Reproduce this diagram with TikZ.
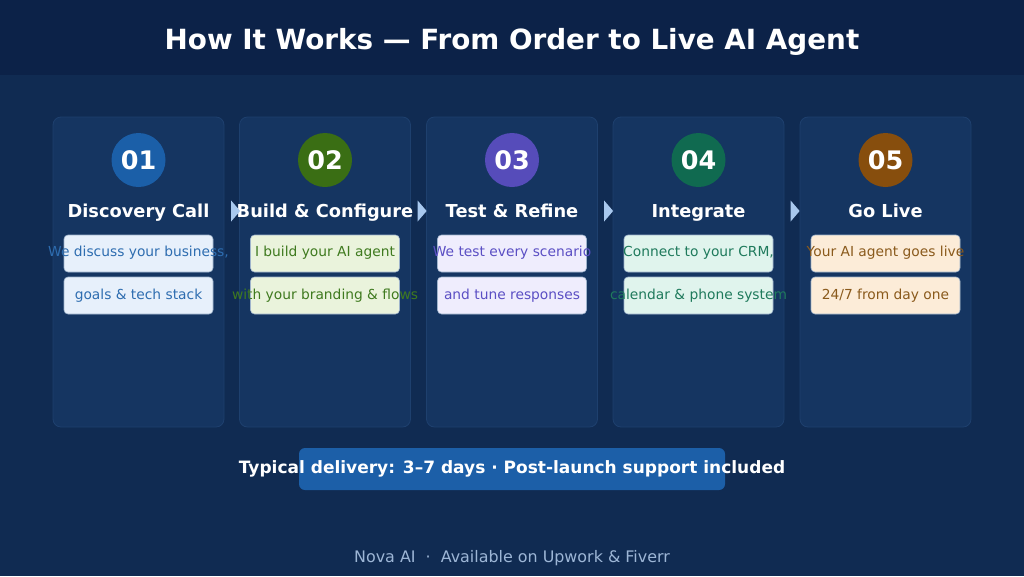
\documentclass[tikz,border=0pt]{standalone}
\usepackage{fontspec}
\setmainfont{DejaVu Sans}
\usetikzlibrary{shapes.geometric, positioning}
\definecolor{bgpage}{HTML}{102B52}
\definecolor{bghead}{HTML}{0C2248}
\definecolor{cardfill}{HTML}{153561}
\definecolor{cardline}{HTML}{1E406E}
\definecolor{boxline}{HTML}{9FB4CC}
\definecolor{tipfill}{HTML}{A8C8EE}
\definecolor{footgray}{HTML}{9DB6D6}
\definecolor{bannerblue}{HTML}{1C5FA8}
\definecolor{numA}{HTML}{1B5FA8}
\definecolor{numB}{HTML}{3A6E14}
\definecolor{numC}{HTML}{564CBA}
\definecolor{numD}{HTML}{106A50}
\definecolor{numE}{HTML}{874E0D}
\definecolor{boxA}{HTML}{E7F0FB}
\definecolor{boxB}{HTML}{EAF3DC}
\definecolor{boxC}{HTML}{EFEDFD}
\definecolor{boxD}{HTML}{E0F4ED}
\definecolor{boxE}{HTML}{FCECD8}
\definecolor{txtA}{HTML}{2E6DB0}
\definecolor{txtB}{HTML}{3F7A1F}
\definecolor{txtC}{HTML}{5B4FC4}
\definecolor{txtD}{HTML}{1F7A5C}
\definecolor{txtE}{HTML}{8A5A1C}

\begin{document}
\begin{tikzpicture}[
  x=1pt, y=-1pt,
  card/.style={rectangle, rounded corners=8pt, fill=cardfill, draw=cardline, line width=0.8pt, minimum width=171pt, minimum height=310pt, inner sep=0pt},
  badge/.style={circle, minimum size=54pt, inner sep=0pt},
  badgenum/.style={anchor=base, inner sep=0pt, text=white, font=\bfseries\fontsize{25.5}{26}\selectfont},
  stepname/.style={anchor=base, text=white, font=\bfseries\fontsize{17.8}{18}\selectfont, inner sep=0pt},
  descbox/.style={rectangle, rounded corners=4pt, draw=boxline, line width=0.6pt, minimum width=149pt, minimum height=37pt, inner sep=0pt},
  desc/.style={anchor=base, font=\fontsize{13.8}{14}\selectfont, inner sep=0pt},
  tip/.style={isosceles triangle, isosceles triangle stretches, fill=tipfill, minimum width=21pt, minimum height=9pt, inner sep=0pt}
]

\fill[bgpage] (0,0) rectangle (1024,576);
\fill[bghead] (0,0) rectangle (1024,75);
\node[anchor=base, inner sep=0pt, text=white, font=\bfseries\fontsize{27.8}{28}\selectfont] (title) at (512,49) {How It Works — From Order to Live AI Agent};

\node[card] (c1) at (138.5,272) {};
\node[card] (c2) at (325,272) {};
\node[card] (c3) at (512,272) {};
\node[card] (c4) at (698.5,272) {};
\node[card] (c5) at (885.5,272) {};

\node[badge, fill=numA] (n1) at (138.5,160) {};
\node[badgenum] (k1) at (138.5,169.5) {01};
\node[stepname] (s1) at (138.5,217.3) {Discovery Call};
\node[descbox, fill=boxA] (b1a) at (138.5,253.5) {};
\node[descbox, fill=boxA] (b1b) at (138.5,295.5) {};
\node[desc, text=txtA] (d1a) at (138.5,256) {We discuss your business,};
\node[desc, text=txtA] (d1b) at (138.5,299) {goals \& tech stack};

\node[badge, fill=numB] (n2) at (325,160) {};
\node[badgenum] (k2) at (325,169.5) {02};
\node[stepname] (s2) at (325,217.3) {Build \& Configure};
\node[descbox, fill=boxB] (b2a) at (325,253.5) {};
\node[descbox, fill=boxB] (b2b) at (325,295.5) {};
\node[desc, text=txtB] (d2a) at (325,256) {I build your AI agent};
\node[desc, text=txtB] (d2b) at (325,299) {with your branding \& flows};

\node[badge, fill=numC] (n3) at (512,160) {};
\node[badgenum] (k3) at (512,169.5) {03};
\node[stepname] (s3) at (512,217.3) {Test \& Refine};
\node[descbox, fill=boxC] (b3a) at (512,253.5) {};
\node[descbox, fill=boxC] (b3b) at (512,295.5) {};
\node[desc, text=txtC] (d3a) at (512,256) {We test every scenario};
\node[desc, text=txtC] (d3b) at (512,299) {and tune responses};

\node[badge, fill=numD] (n4) at (698.5,160) {};
\node[badgenum] (k4) at (698.5,169.5) {04};
\node[stepname] (s4) at (698.5,217.3) {Integrate};
\node[descbox, fill=boxD] (b4a) at (698.5,253.5) {};
\node[descbox, fill=boxD] (b4b) at (698.5,295.5) {};
\node[desc, text=txtD] (d4a) at (698.5,256) {Connect to your CRM,};
\node[desc, text=txtD] (d4b) at (698.5,299) {calendar \& phone system};

\node[badge, fill=numE] (n5) at (885.5,160) {};
\node[badgenum] (k5) at (885.5,169.5) {05};
\node[stepname] (s5) at (885.5,217.3) {Go Live};
\node[descbox, fill=boxE] (b5a) at (885.5,253.5) {};
\node[descbox, fill=boxE] (b5b) at (885.5,295.5) {};
\node[desc, text=txtE] (d5a) at (885.5,256) {Your AI agent goes live};
\node[desc, text=txtE] (d5b) at (885.5,299) {24/7 from day one};

\node[tip] (t12) at (235,211) {};
\node[tip] (t23) at (421.5,211) {};
\node[tip] (t34) at (608,211) {};
\node[tip] (t45) at (794.5,211) {};

\node[rectangle, rounded corners=6pt, fill=bannerblue, minimum width=426pt, minimum height=42pt] (banner) at (512,469) {};
\node[anchor=base, inner sep=0pt, text=white, font=\bfseries\fontsize{17}{17}\selectfont] (delivery) at (512,473.3) {Typical delivery: 3–7 days · Post-launch support included};

\node[anchor=base, inner sep=0pt, text=footgray, font=\fontsize{15.9}{16}\selectfont] (footer) at (512,562) {Nova AI \ · \ Available on Upwork \& Fiverr};

\end{tikzpicture}
\end{document}
